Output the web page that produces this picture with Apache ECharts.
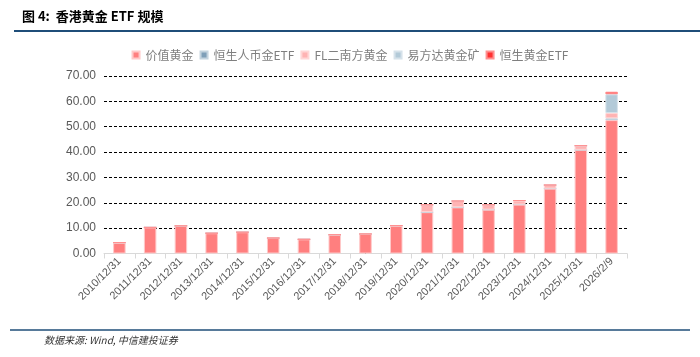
<!DOCTYPE html>
<html><head><meta charset="utf-8">
<script src="https://cdn.jsdelivr.net/npm/echarts@6/dist/echarts.min.js"></script>
<style>html,body{margin:0;padding:0;background:#fff}#c{width:700px;height:357px}</style>
</head><body><div id="c"></div>
<script>
const categories = ['2010/12/31','2011/12/31','2012/12/31','2013/12/31','2014/12/31','2015/12/31','2016/12/31','2017/12/31','2018/12/31','2019/12/31','2020/12/31','2021/12/31','2022/12/31','2023/12/31','2024/12/31','2025/12/31','2026/2/9'];
const valueGold  = [4.3,10.3,10.9,8.0,8.4,6.1,5.6,7.4,7.7,11.0,16.3,18.2,17.3,19.3,25.6,40.9,52.6];
const hsRmbGold  = [0,0,0,0,0,0,0,0,0,0,0,0,0,0,0,0,0.7];
const flSouthern = [0,0,0,0,0,0,0,0,0,0,2.9,2.5,1.9,1.6,1.4,1.6,2.1];
const efundMine  = [0,0,0,0,0,0,0,0,0,0,0,0,0,0,0,0,7.4];
const hsGold     = [0,0,0,0,0,0,0,0,0,0,0,0,0,0,0,0,1.0];
const seriesNames = ['价值黄金','恒生人币金ETF','FL二南方黄金','易方达黄金矿','恒生黄金ETF'];
const yTicks = [0,10,20,30,40,50,60,70];

const colors = ['#FF7F7F','#7F9FB8','#FFB3B3','#B3CAD8','#FF3030'];
const borders = ['#FFC9C9','#C4D3DE','#FFD6D6','#D6E2EA','#FF9090'];
const datas = [valueGold,hsRmbGold,flSouthern,efundMine,hsGold];
const chart = echarts.init(document.getElementById('c'));
const font = '"Liberation Sans", Arial, "Noto Sans CJK SC", sans-serif';
chart.setOption({
  animation:false,
  textStyle:{fontFamily:font},
  color:colors,
  legend:{
    data:seriesNames, top:44, left:'center', itemWidth:7, itemHeight:7, itemGap:6,
    icon:'rect',
    textStyle:{color:'#7f7f7f',fontSize:12,padding:[0,0,0,1],fontFamily:'"Noto Sans CJK SC", sans-serif'}
  },
  grid:{left:104,right:73,top:76,bottom:103.5,containLabel:false},
  xAxis:{
    type:'category', data:categories,
    axisLine:{lineStyle:{color:'#D9D9D9'}},
    axisTick:{show:true,lineStyle:{color:'#D9D9D9'},alignWithLabel:false},
    axisLabel:{rotate:45,interval:0,color:'#595959',fontSize:11,margin:6}
  },
  yAxis:{
    type:'value', min:0, max:70, interval:10,
    axisLine:{show:false}, axisTick:{show:false},
    axisLabel:{color:'#595959',fontSize:12,margin:8,formatter:v=>v.toFixed(2)},
    splitLine:{lineStyle:{color:'#000',type:[3,2],width:1}}
  },
  series:seriesNames.map((n,i)=>({
    name:n,type:'bar',stack:'a',data:datas[i],barWidth:12.5,
    itemStyle:{color:colors[i],borderColor:borders[i],borderWidth:1}
  })),
  graphic:[
    {type:'text',left:22,top:10,style:{text:'图 4:  香港黄金 ETF 规模',font:'bold 13px "Noto Sans CJK SC", serif',fill:'#000'}},
    {type:'line',shape:{x1:14,y1:31,x2:700,y2:31},style:{stroke:'#1F4E79',lineWidth:2}},
    {type:'line',shape:{x1:10,y1:330,x2:690,y2:330},style:{stroke:'#1F4E79',lineWidth:1.5}},
    {type:'text',left:44,top:335,style:{text:'数据来源: Wind, 中信建投证券',font:'italic 10px "Noto Sans CJK SC", serif',fill:'#333'}}
  ]
});
</script></body></html>
